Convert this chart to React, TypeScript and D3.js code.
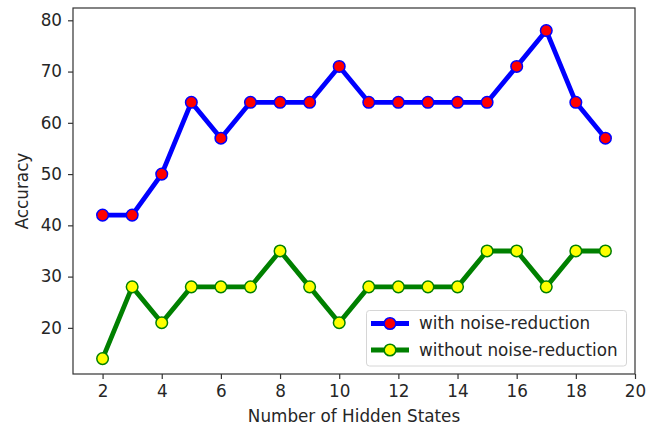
import React, { useEffect, useRef } from 'react'
import * as d3 from 'd3'

const hiddenStates = [2, 3, 4, 5, 6, 7, 8, 9, 10, 11, 12, 13, 14, 15, 16, 17, 18, 19]
const withNoiseReduction = [42, 42, 50, 64, 57, 64, 64, 64, 71, 64, 64, 64, 64, 64, 71, 78, 64, 57]
const withoutNoiseReduction = [14, 28, 21, 28, 28, 28, 35, 28, 21, 28, 28, 28, 28, 35, 35, 28, 35, 35]
const xTicks = [2, 4, 6, 8, 10, 12, 14, 16, 18, 20]
const yTicks = [20, 30, 40, 50, 60, 70, 80]
const seriesNames = ['with noise-reduction', 'without noise-reduction']

export default function App() {
    const svgRef = useRef<SVGSVGElement>(null)

    useEffect(() => {
        const svg = d3.select(svgRef.current)
        svg.selectAll('*').remove()

        const width = 649
        const height = 426
        const margin = { left: 73, right: 14, top: 8, bottom: 52 }
        const font = 'DejaVu Sans, sans-serif'
        const fontSize = 16.8
        const textColor = '#262626'

        const x = d3.scaleLinear().domain([1, 20]).range([margin.left, width - margin.right])
        const y = d3.scaleLinear().domain([11, 82.4]).range([height - margin.bottom, margin.top])

        // axes
        const xAxis = svg.append('g')
            .attr('transform', `translate(0,${height - margin.bottom})`)
            .call(d3.axisBottom(x).tickValues(xTicks).tickSize(5).tickPadding(6).tickFormat(d3.format('d')))
        const yAxis = svg.append('g')
            .attr('transform', `translate(${margin.left},0)`)
            .call(d3.axisLeft(y).tickValues(yTicks).tickSize(5).tickPadding(6).tickFormat(d3.format('d')))

        for (const a of [xAxis, yAxis]) {
            a.select('.domain').remove()
            a.selectAll('line').attr('stroke', '#333').attr('stroke-width', 1.2)
            a.selectAll('text')
                .attr('fill', textColor)
                .attr('font-family', font)
                .attr('font-size', fontSize)
        }

        // frame
        svg.append('rect')
            .attr('x', margin.left)
            .attr('y', margin.top)
            .attr('width', width - margin.right - margin.left)
            .attr('height', height - margin.bottom - margin.top)
            .attr('fill', 'none')
            .attr('stroke', '#333')
            .attr('stroke-width', 1.2)

        svg.append('text')
            .attr('x', (x(1) + x(20)) / 2)
            .attr('y', 422)
            .attr('text-anchor', 'middle')
            .attr('font-family', font)
            .attr('font-size', fontSize)
            .attr('fill', textColor)
            .text('Number of Hidden States')

        svg.append('text')
            .attr('transform', `translate(28,${(y(11) + y(82.4)) / 2}) rotate(-90)`)
            .attr('text-anchor', 'middle')
            .attr('font-family', font)
            .attr('font-size', fontSize)
            .attr('fill', textColor)
            .text('Accuracy')

        const series = [
            { values: withNoiseReduction, line: '#0000ff', fill: '#ff0000' },
            { values: withoutNoiseReduction, line: '#008000', fill: '#ffff00' },
        ]

        const line = d3.line<number>()
            .x((d, i) => x(hiddenStates[i]))
            .y(d => y(d))

        series.forEach(s => {
            svg.append('path')
                .datum(s.values)
                .attr('d', line)
                .attr('fill', 'none')
                .attr('stroke', s.line)
                .attr('stroke-width', 4.8)
                .attr('stroke-linejoin', 'round')
            svg.selectAll(null)
                .data(s.values)
                .enter()
                .append('circle')
                .attr('cx', (d, i) => x(hiddenStates[i]))
                .attr('cy', d => y(d))
                .attr('r', 5.8)
                .attr('fill', s.fill)
                .attr('stroke', s.line)
                .attr('stroke-width', 1.5)
        })

        // legend
        const legend = svg.append('g')
        legend.append('rect')
            .attr('x', 366.5)
            .attr('y', 310.5)
            .attr('width', 260)
            .attr('height', 55.5)
            .attr('rx', 3)
            .attr('fill', 'white')
            .attr('fill-opacity', 0.8)
            .attr('stroke', '#d6d6d6')
            .attr('stroke-width', 1)
        series.forEach((s, i) => {
            const cy = 323.5 + i * 26.5
            legend.append('line')
                .attr('x1', 371).attr('x2', 409)
                .attr('y1', cy).attr('y2', cy)
                .attr('stroke', s.line)
                .attr('stroke-width', 4.8)
            legend.append('circle')
                .attr('cx', 390).attr('cy', cy)
                .attr('r', 5.8)
                .attr('fill', s.fill)
                .attr('stroke', s.line)
                .attr('stroke-width', 1.5)
            legend.append('text')
                .attr('x', 419)
                .attr('y', cy)
                .attr('dy', '0.35em')
                .attr('font-family', font)
                .attr('font-size', fontSize)
                .attr('fill', textColor)
                .text(seriesNames[i])
        })
    }, [])

    return (
        <svg ref={svgRef} width={649} height={426}
            style={{ position: 'absolute', left: 0, top: 0, background: 'white' }} />
    )
}
